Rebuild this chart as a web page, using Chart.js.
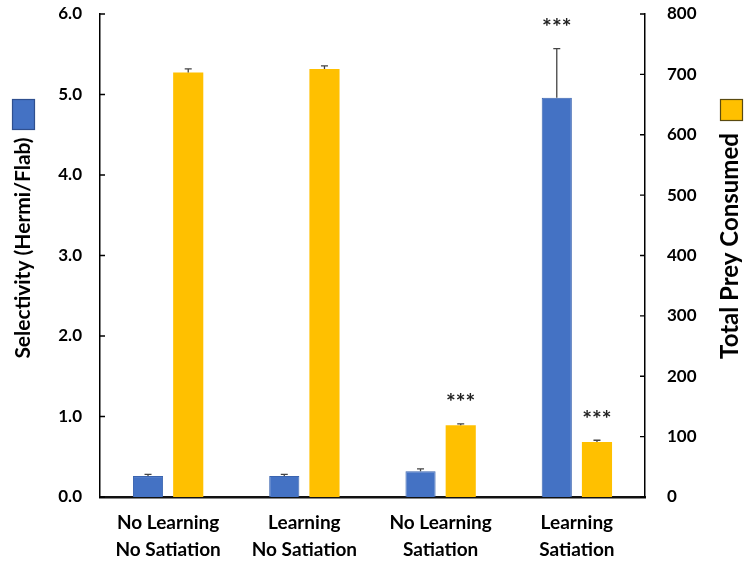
<!DOCTYPE html>
<html>
<head>
<meta charset="utf-8">
<script src="https://cdn.jsdelivr.net/npm/chart.js@4/dist/chart.umd.min.js"></script>
<style>
  body { margin: 0; background: #fff; }
  #wrap { width: 746px; height: 566px; }
</style>
</head>
<body>
<div id="wrap"><canvas id="chart" width="746" height="566"></canvas></div>
<script>
const categories = [["No Learning", "No Satiation"], ["Learning", "No Satiation"], ["No Learning", "Satiation"], ["Learning", "Satiation"]];
const selectivity = [0.26, 0.26, 0.32, 4.96];
const selectivityErr = [0.02, 0.02, 0.03, 0.61];
const selectivitySig = ["", "", "", "***"];
const preyConsumed = [703, 709, 119, 91];
const preyErr = [6, 5, 2, 3];
const preySig = ["", "", "***", "***"];
const leftTicks = [0, 1, 2, 3, 4, 5, 6];
const rightTicks = [0, 100, 200, 300, 400, 500, 600, 700, 800];

const blue = "#4472C4";
const yellow = "#FFC000";
const fontFamily = "Lato, 'Open Sans', sans-serif";

const extras = {
    id: "extras",
    afterDatasetsDraw(chart) {
        const ctx = chart.ctx;
        const area = chart.chartArea;
        const sets = [
            { idx: 0, axis: "y", err: selectivityErr, sig: selectivitySig, vals: selectivity },
            { idx: 1, axis: "y1", err: preyErr, sig: preySig, vals: preyConsumed },
        ];
        ctx.save();
        sets.forEach(s => {
            const meta = chart.getDatasetMeta(s.idx);
            const scale = chart.scales[s.axis];
            meta.data.forEach((bar, i) => {
                const yTop = scale.getPixelForValue(s.vals[i]);
                const yErr = scale.getPixelForValue(s.vals[i] + s.err[i]);
                ctx.strokeStyle = "#444";
                ctx.lineWidth = 1.3;
                ctx.beginPath();
                ctx.moveTo(bar.x, yTop);
                ctx.lineTo(bar.x, yErr);
                ctx.moveTo(bar.x - 3.5, yErr);
                ctx.lineTo(bar.x + 3.5, yErr);
                ctx.stroke();
                if (s.sig[i]) {
                    ctx.fillStyle = "#222";
                    ctx.font = "bold 23px " + fontFamily;
                    ctx.textAlign = "center";
                    ctx.textBaseline = "middle";
                    ctx.fillText(s.sig[i], bar.x, yErr - 21);
                }
            });
        });

        // inward tick marks
        ctx.strokeStyle = "#000";
        ctx.lineWidth = 1.3;
        ctx.beginPath();
        leftTicks.forEach(v => {
            const y = chart.scales.y.getPixelForValue(v);
            ctx.moveTo(area.left, y);
            ctx.lineTo(area.left + 5, y);
        });
        rightTicks.forEach(v => {
            const y = chart.scales.y1.getPixelForValue(v);
            ctx.moveTo(area.right, y);
            ctx.lineTo(area.right - 5, y);
        });
        ctx.stroke();

        // axis titles with colour keys
        ctx.fillStyle = "#000";
        ctx.textAlign = "center";
        ctx.textBaseline = "alphabetic";

        ctx.save();
        ctx.font = "bold 21px " + fontFamily;
        ctx.translate(30, 248);
        ctx.rotate(-Math.PI / 2);
        ctx.fillText("Selectivity (Hermi/Flab)", 0, 0);
        ctx.restore();

        ctx.save();
        ctx.font = "bold 24px " + fontFamily;
        ctx.translate(738, 246);
        ctx.rotate(-Math.PI / 2);
        ctx.fillText("Total Prey Consumed", 0, 0);
        ctx.restore();

        ctx.lineWidth = 1.2;
        ctx.strokeStyle = "#2f4f8f";
        ctx.fillStyle = blue;
        ctx.fillRect(12.5, 99.5, 22, 30);
        ctx.strokeRect(12.5, 99.5, 22, 30);
        ctx.strokeStyle = "#5a4a10";
        ctx.fillStyle = yellow;
        ctx.fillRect(720.5, 99.5, 22, 21);
        ctx.strokeRect(720.5, 99.5, 22, 21);
        ctx.restore();
    }
};

function fixWidth(w) {
    return scale => {
        scale.width = w;
        scale.paddingTop = 0;
        scale.paddingBottom = 0;
    };
}

new Chart(document.getElementById("chart"), {
    type: "bar",
    data: {
        labels: categories,
        datasets: [
            {
                label: "Selectivity (Hermi/Flab)",
                data: selectivity,
                yAxisID: "y",
                backgroundColor: blue,
                borderColor: "#3a64b0",
                borderWidth: 1,
                barPercentage: 0.75,
                categoryPercentage: 0.59,
            },
            {
                label: "Total Prey Consumed",
                data: preyConsumed,
                yAxisID: "y1",
                backgroundColor: yellow,
                borderWidth: 0,
                barPercentage: 0.75,
                categoryPercentage: 0.59,
            },
        ],
    },
    options: {
        responsive: false,
        animation: false,
        layout: { padding: { top: 14, left: 0, right: 0, bottom: 0 } },
        plugins: {
            legend: { display: false },
            tooltip: { enabled: false },
        },
        scales: {
            x: {
                grid: { display: false, drawTicks: false },
                border: { display: true, color: "#111", width: 2.5 },
                ticks: {
                    color: "#000",
                    padding: 12,
                    font: { family: fontFamily, size: 19, weight: "bold", lineHeight: 1.45 },
                },
                afterFit: scale => { scale.height = 69; },
            },
            y: {
                position: "left",
                min: 0,
                max: 6,
                grid: { display: false, drawTicks: false },
                border: { display: true, color: "#000", width: 1.5 },
                ticks: {
                    stepSize: 1,
                    color: "#000",
                    padding: 18,
                    font: { family: fontFamily, size: 17, weight: "bold" },
                    callback: v => v.toFixed(1),
                },
                afterFit: fixWidth(100),
            },
            y1: {
                position: "right",
                min: 0,
                max: 800,
                grid: { display: false, drawTicks: false },
                border: { display: true, color: "#000", width: 1.5 },
                ticks: {
                    stepSize: 100,
                    color: "#000",
                    padding: 22,
                    font: { family: fontFamily, size: 17, weight: "bold" },
                },
                afterFit: fixWidth(101),
            },
        },
    },
    plugins: [extras],
});
</script>
</body>
</html>
